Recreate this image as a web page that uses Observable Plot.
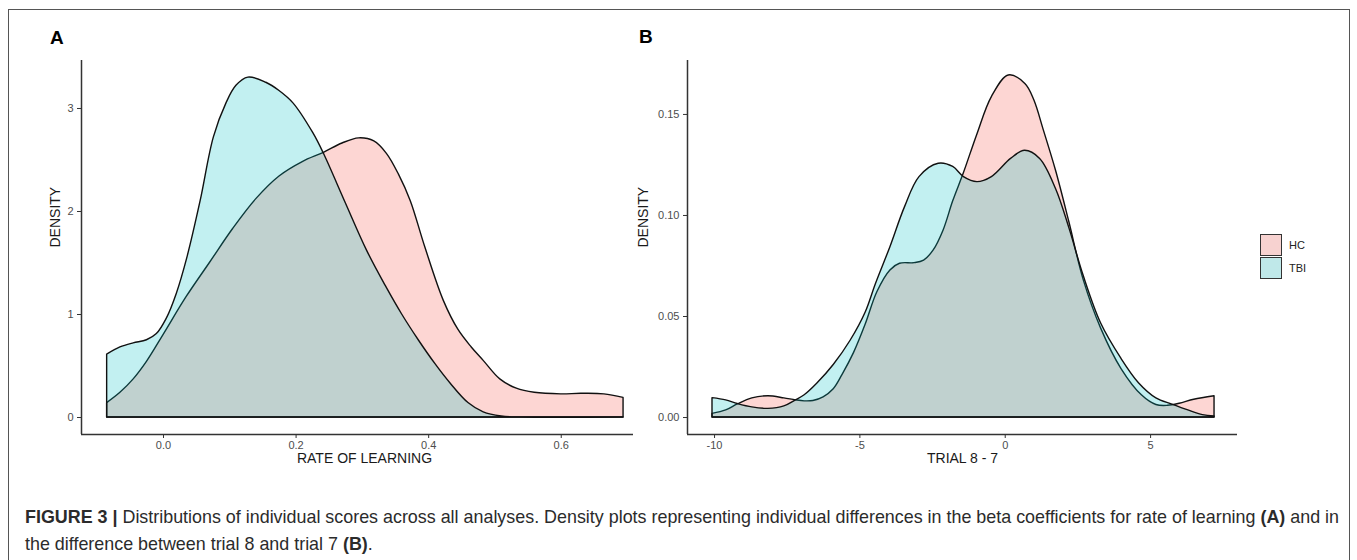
<!DOCTYPE html>
<html>
<head>
<meta charset="utf-8">
<script src="https://cdn.jsdelivr.net/npm/d3@7"></script>
<script src="https://cdn.jsdelivr.net/npm/@observablehq/plot@0.6"></script>
<style>
  html, body { margin: 0; padding: 0; background: #fff; }
  #fig { position: relative; width: 1357px; height: 560px; overflow: hidden; background: #fff;
         font-family: "Liberation Sans", Arial, Helvetica, sans-serif; }
  #frame { position: absolute; left: 8px; top: 9px; width: 1342px; height: 600px;
           border: 1.5px solid #555; box-sizing: border-box; }
  .panel { position: absolute; top: 0; }
  .tag { position: absolute; font-weight: bold; font-size: 19px; color: #000; line-height: 1; }
  #legend { position: absolute; left: 1260px; top: 234px; font-size: 11px; color: #222; }
  .row { display: flex; align-items: center; height: 22.5px; }
  .key { width: 20px; height: 20px; border: 1.3px solid #333; margin-right: 7px; }
  #caption { position: absolute; left: 25px; top: 504px; font-size: 17.9px; line-height: 27px;
             color: #2b2b2b; white-space: nowrap; }
</style>
</head>
<body>
<div id="fig">
  <div id="frame"></div>
  <div class="tag" style="left:50px;top:28px;">A</div>
  <div class="tag" style="left:639px;top:27px;">B</div>
  <div id="panelA" class="panel" style="left:0px;"></div>
  <div id="panelB" class="panel" style="left:660px;"></div>
  <div id="legend"></div>
  <div id="caption"><b>FIGURE 3 |</b> Distributions of individual scores across all analyses. Density plots representing individual differences in the beta coefficients for rate of learning <b>(A)</b> and in<br>the difference between trial 8 and trial 7 <b>(B)</b>.</div>
</div>
<script>
// ---------- Data ----------
const groups = ["HC", "TBI"];
const groupColors = ["#F8766D", "#00BFC4"];

// Panel A: RATE OF LEARNING density curves
const rateX_HC = [-0.085,-0.065,-0.045,-0.025,0.0,0.035,0.07,0.105,0.14,0.175,0.21,0.242,0.27,0.295,0.318,0.337,0.355,0.373,0.395,0.423,0.445,0.465,0.483,0.508,0.533,0.56,0.60,0.63,0.665,0.694];
const rateD_HC = [0.14,0.24,0.37,0.54,0.80,1.17,1.50,1.83,2.12,2.34,2.48,2.57,2.66,2.71,2.68,2.56,2.36,2.10,1.65,1.13,0.85,0.68,0.55,0.37,0.28,0.24,0.225,0.23,0.225,0.19];
const rateX_TBI = [-0.085,-0.065,-0.045,-0.025,-0.01,0.005,0.02,0.036,0.056,0.076,0.095,0.11,0.128,0.155,0.175,0.196,0.226,0.242,0.275,0.307,0.335,0.36,0.385,0.41,0.433,0.46,0.483,0.51,0.54,0.694];
const rateD_TBI = [0.61,0.68,0.72,0.75,0.81,0.96,1.2,1.55,2.1,2.72,3.05,3.22,3.30,3.25,3.17,3.05,2.76,2.56,2.08,1.62,1.28,1.0,0.75,0.52,0.33,0.14,0.05,0.01,0.0,0.0];

// Panel B: TRIAL 8 - 7 density curves
const trialX_HC = [-10.07,-9.6,-9.2,-8.7,-8.15,-7.6,-7.2,-6.9,-6.6,-6.25,-5.9,-5.6,-5.2,-4.8,-4.4,-3.95,-3.62,-3.12,-2.79,-2.46,-2.12,-1.79,-1.42,-0.96,-0.46,0.12,0.70,1.0,1.33,1.75,2.2,2.7,3.3,4.0,4.7,5.2,5.6,6.0,6.5,7.2];
const trialD_HC = [0.0018,0.0035,0.0065,0.0095,0.0105,0.0095,0.0085,0.008,0.0082,0.010,0.014,0.021,0.032,0.046,0.062,0.0728,0.0761,0.0764,0.0777,0.0827,0.0926,0.107,0.121,0.140,0.1586,0.1693,0.165,0.157,0.142,0.122,0.097,0.068,0.044,0.024,0.011,0.0062,0.0058,0.0068,0.0088,0.0105];
const trialX_TBI = [-10.07,-9.6,-9.2,-8.7,-8.15,-7.6,-7.2,-6.9,-6.47,-5.9,-5.32,-4.8,-4.45,-3.95,-3.45,-2.95,-2.29,-1.79,-1.42,-0.96,-0.46,0.20,0.68,1.2,1.75,2.2,2.7,3.3,4.0,4.6,5.2,5.75,6.3,6.8,7.2];
const trialD_TBI = [0.0096,0.0085,0.0067,0.005,0.0043,0.0055,0.0085,0.011,0.0167,0.026,0.038,0.052,0.066,0.0843,0.104,0.119,0.1256,0.124,0.119,0.1165,0.119,0.128,0.132,0.128,0.113,0.094,0.070,0.0465,0.029,0.017,0.0095,0.0064,0.0035,0.0012,0.0005];

// Tick values
const rateTicks = [0.0, 0.2, 0.4, 0.6];
const densityTicksA = [0, 1, 2, 3];
const trialTicks = [-10, -5, 0, 5];
const densityTicksB = [0.00, 0.05, 0.10, 0.15];

// Axis titles
const xTitleA = "RATE OF LEARNING";
const xTitleB = "TRIAL 8 - 7";
const yTitle = "DENSITY";

// ---------- Build ----------
const zip = (xs, ys) => xs.map((x, i) => ({x, y: ys[i]}));
const fontFamily = '"Liberation Sans", Arial, Helvetica, sans-serif';

function panel({series, xDomain, yDomain, xTicks, yTicks, xFmt, yFmt, xTitle, width, marginLeft, marginRight, xTitleDx, yTitleDx}) {
  const alphas = [0.3, 0.24];
  const areas = series.map((s, i) => Plot.areaY(s, {
    x: "x", y: "y", fill: groupColors[i], fillOpacity: alphas[i],
    stroke: "#111", strokeWidth: 1.4, curve: "catmull-rom"
  }));
  return Plot.plot({
    width, height: 480,
    marginLeft, marginRight, marginTop: 60, marginBottom: 46,
    x: {domain: xDomain},
    y: {domain: yDomain},
    style: {fontFamily, fontSize: "11px", background: "transparent", overflow: "visible"},
    marks: [
      ...areas,
      Plot.ruleX([xDomain[0]], {stroke: "#333", strokeWidth: 1.5}),
      Plot.ruleY([yDomain[0]], {stroke: "#333", strokeWidth: 1.5}),
      Plot.axisX({ticks: xTicks, tickFormat: xFmt, tickSize: 4, tickPadding: 3, fill: "#4d4d4d", stroke: "#333", label: null}),
      Plot.axisY({ticks: yTicks, tickFormat: yFmt, tickSize: 4, tickPadding: 4, fill: "#4d4d4d", stroke: "#333", label: null}),
      Plot.text([xTitle], {text: d => d, frameAnchor: "bottom", dy: 28, dx: xTitleDx, fontSize: 14, fill: "#1a1a1a"}),
      Plot.text([yTitle], {text: d => d, frameAnchor: "left", dx: yTitleDx, rotate: -90, fontSize: 14, fill: "#1a1a1a"})
    ]
  });
}

const plotA = panel({
  series: [zip(rateX_HC, rateD_HC), zip(rateX_TBI, rateD_TBI)],
  xDomain: [-0.1237, 0.709], yDomain: [-0.165, 3.466],
  xTicks: rateTicks, yTicks: densityTicksA,
  xFmt: d3.format(".1f"), yFmt: d => String(d),
  xTitle: xTitleA, width: 660, marginLeft: 81, marginRight: 27, xTitleDx: 7, yTitleDx: -25.5
});
document.getElementById("panelA").appendChild(plotA);

const plotB = panel({
  series: [zip(trialX_HC, trialD_HC), zip(trialX_TBI, trialD_TBI)],
  xDomain: [-10.93, 7.99], yDomain: [-0.0084, 0.1767],
  xTicks: trialTicks, yTicks: densityTicksB,
  xFmt: d => String(d), yFmt: d3.format(".2f"),
  xTitle: xTitleB, width: 697, marginLeft: 27, marginRight: 120, xTitleDx: 0, yTitleDx: -44
});
document.getElementById("panelB").appendChild(plotB);

// Legend
const legend = document.getElementById("legend");
const keyFills = ["#F7D2D0", "#BFE8E9"];
groups.forEach((g, i) => {
  const row = document.createElement("div");
  row.className = "row";
  const key = document.createElement("div");
  key.className = "key";
  key.style.background = keyFills[i];
  const lab = document.createElement("span");
  lab.textContent = g;
  row.appendChild(key);
  row.appendChild(lab);
  legend.appendChild(row);
});
</script>
</body>
</html>
